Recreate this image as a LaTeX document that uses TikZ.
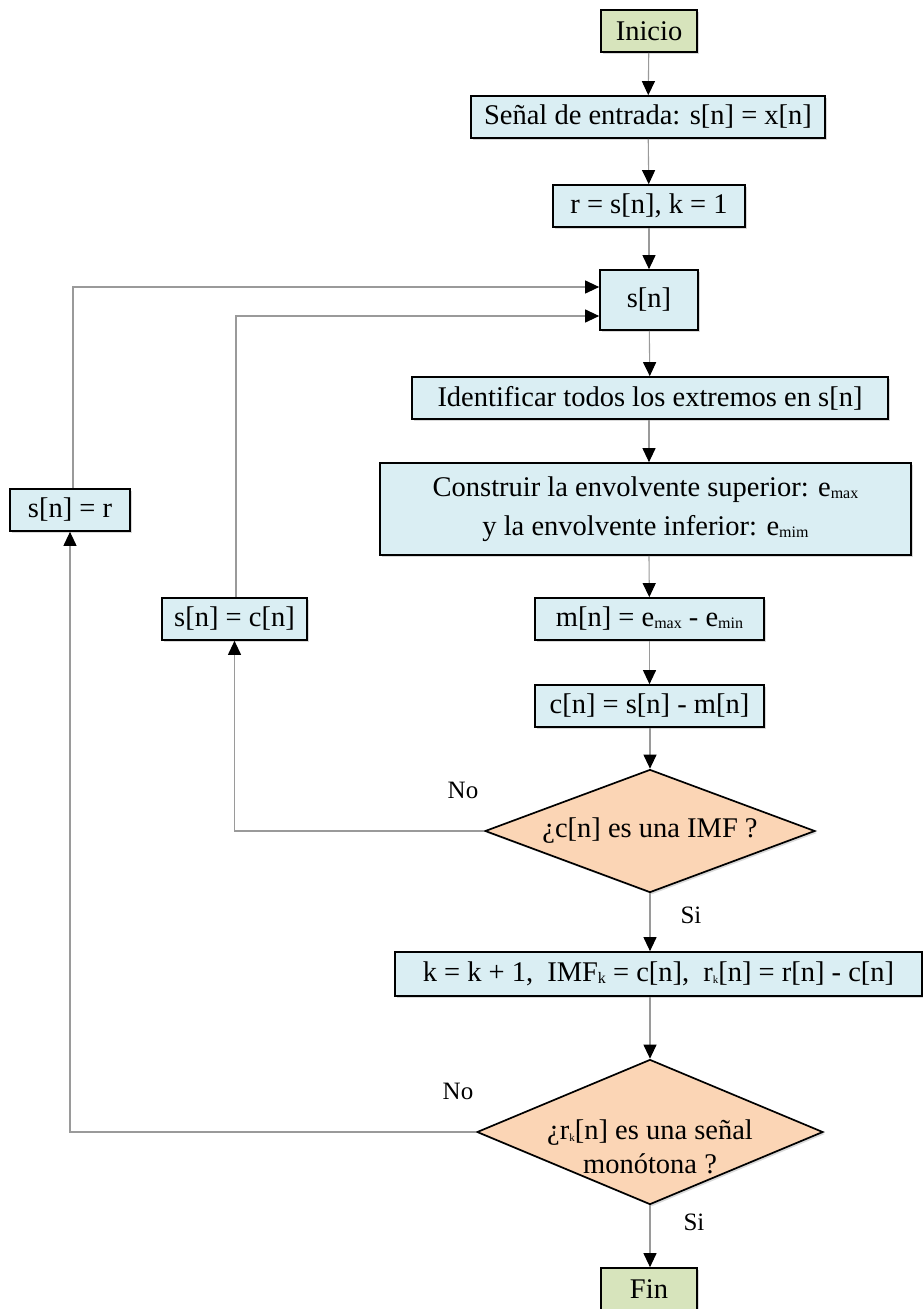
\documentclass[tikz,border=0pt]{standalone}
\usepackage{fontspec}
\setmainfont{Liberation Serif}
\usetikzlibrary{shapes.geometric,arrows.meta,shadows}
\definecolor{procblue}{HTML}{DAEEF3}
\definecolor{termgreen}{HTML}{D7E4BC}
\definecolor{decorange}{HTML}{FBD5B5}
\definecolor{linkgray}{HTML}{9A9A9A}
\newcommand\lowsub[1]{\raisebox{-2pt}{\fontsize{16}{16}\selectfont #1}}
\newcommand\tinysub[1]{\raisebox{-2pt}{\fontsize{11}{11}\selectfont #1}}
\begin{document}
\begin{tikzpicture}[x=1pt,y=-1pt,
  font=\fontsize{28.5}{39}\selectfont,
  base/.style={draw=black, line width=1.7pt, inner sep=0pt, minimum height=42pt,
    drop shadow={shadow xshift=2pt, shadow yshift=-2pt, opacity=0.3, fill=gray}},
  proc/.style={base, fill=procblue},
  term/.style={base, fill=termgreen},
  dec/.style={diamond, draw=black, line width=1.7pt, fill=decorange, inner sep=0pt,
    drop shadow={shadow xshift=2pt, shadow yshift=-2pt, opacity=0.3, fill=gray}},
  dectext/.style={align=center, inner sep=0pt, font=\fontsize{28.5}{34}\selectfont},
  link/.style={draw=linkgray, line width=1.1pt, -{Triangle[length=14pt,width=13pt,black]}},
  tag/.style={font=\fontsize{25}{28}\selectfont}]
\useasboundingbox (0,0) rectangle (923,1309);

% main column
\node[term, minimum width=96pt] (ini) at (649,31) {Inicio};
\node[proc, minimum width=354pt] (inp) at (648,117) {Señal de entrada: s[n] = x[n]};
\node[proc, minimum width=192pt] (init) at (649,206) {r = s[n], k = 1};
\node[proc, minimum width=98pt, minimum height=60pt] (sig) at (649,300) {s[n]};
\node[proc, minimum width=476pt] (ext) at (650,398) {Identificar todos los extremos en s[n]};
\node[proc, minimum width=531pt, minimum height=92pt, align=center] (env) at (645.5,509)
  {Construir la envolvente superior: e\lowsub{max}\\y la envolvente inferior: e\lowsub{mim}};
\node[proc, minimum width=229pt] (mean) at (649.5,619) {m[n] = e\lowsub{max} - e\lowsub{min}};
\node[proc, minimum width=229pt] (cand) at (649.5,706) {c[n] = s[n] - m[n]};
\node[dec, minimum width=330pt, minimum height=123pt] (imf) at (650,831) {};
\node[dectext] (imftext) at (imf) {¿c[n] es una IMF ?};
\node[proc, minimum width=527pt, minimum height=44pt] (upd) at (658.5,974)
  {k = k + 1,\hspace{14pt}IMF\lowsub{k} = c[n],\hspace{14pt}r\tinysub{k}[n] = r[n] - c[n]};
\node[dec, minimum width=346pt, minimum height=145pt] (mono) at (650,1132) {};
\node[dectext] (monotext) at (650,1147) {¿r\tinysub{k}[n] es una señal\\monótona ?};
\node[term, minimum width=96pt] (fin) at (649,1289) {Fin};

% side boxes
\node[proc, minimum width=120pt] (rest) at (70,510) {s[n] = r};
\node[proc, minimum width=145pt] (copy) at (234.5,619) {s[n] = c[n]};

% bend points of the loops
\coordinate (loopA) at (73,287);
\coordinate (loopB) at (236,316);

% main flow
\draw[link] (ini) -- (inp);
\draw[link] (inp) -- (init);
\draw[link] (init) -- (sig);
\draw[link] (sig) -- (ext);
\draw[link] (ext.south -| sig) -- (env.north -| sig);
\draw[link] (env.south -| sig) -- (mean);
\draw[link] (mean) -- (cand);
\draw[link] (cand.south -| imf) -- (imf.north);
\draw[link] (imf.south) -- (upd.north -| imf);
\draw[link] (upd.south -| mono) -- (mono.north);
\draw[link] (mono.south) -- (fin.north -| mono);

% loops back to s[n]
\draw[link] (imf.west) -| (copy.south);
\draw[link] (copy.north -| loopB) -- (loopB) -- (loopB -| sig.west);
\draw[link] (mono.west) -| (rest.south);
\draw[link] (rest.north -| loopA) -- (loopA) -- (loopA -| sig.west);

% branch labels
\node[tag] (no1) at (463,790) {No};
\node[tag] (si1) at (691,915) {Si};
\node[tag] (no2) at (458,1091) {No};
\node[tag] (si2) at (694,1222) {Si};
\end{tikzpicture}
\end{document}
